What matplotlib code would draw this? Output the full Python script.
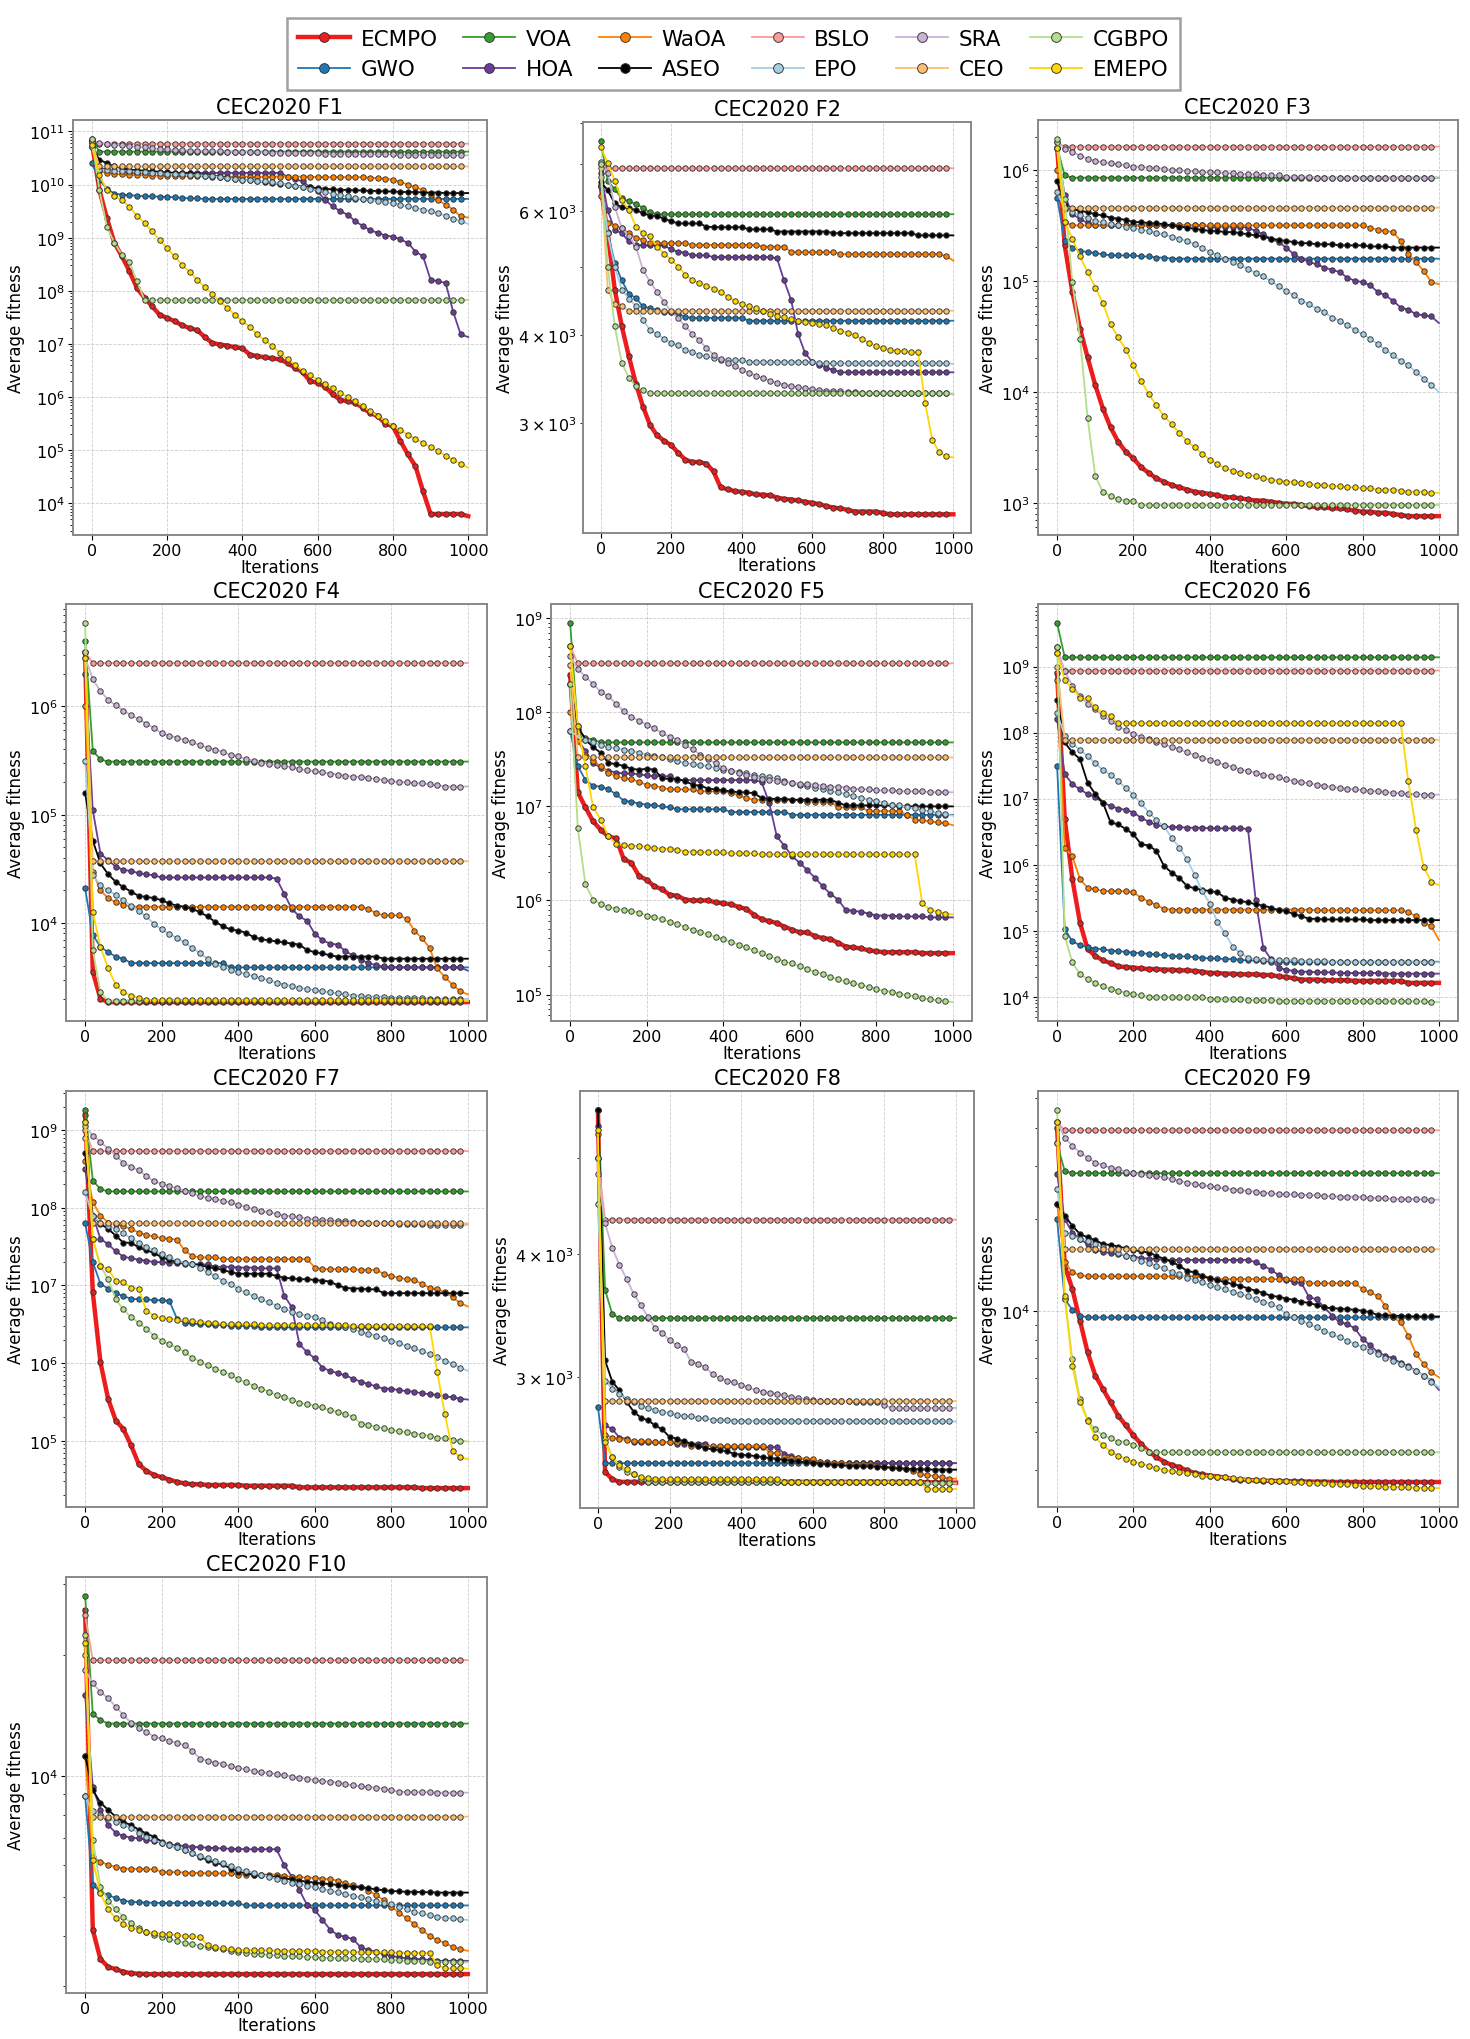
import numpy as np
import matplotlib
matplotlib.use("Agg")
import matplotlib.pyplot as plt

# iterations at which the curves are sampled (markers every 20 iterations)
ITERS = list(range(0, 1001, 20))

ALGOS = ["ECMPO", "GWO", "VOA", "HOA", "WaOA", "ASEO",
         "BSLO", "EPO", "SRA", "CEO", "CGBPO", "EMEPO"]

COLORS = {
    "ECMPO": "#ee1c1c", "GWO": "#1f78b4", "VOA": "#33a02c", "HOA": "#6a3d9a",
    "WaOA": "#ff7f00", "ASEO": "#000000", "BSLO": "#fb9a99", "EPO": "#a6cee3",
    "SRA": "#cab2d6", "CEO": "#fdbf6f", "CGBPO": "#b2df8a", "EMEPO": "#ffd700",
}

# ---- F1: log10 of average fitness ----
F1_LOG = {
    "ECMPO": [10.80, 9.90, 9.37, 8.90, 8.65, 8.37, 8.05, 7.87, 7.71, 7.55,
              7.49, 7.43, 7.35, 7.30, 7.26, 7.13, 7.02, 6.99, 6.97, 6.94,
              6.92, 6.80, 6.77, 6.75, 6.73, 6.71, 6.64, 6.55, 6.47, 6.30,
              6.27, 6.19, 6.05, 5.95, 5.92, 5.89, 5.80, 5.70, 5.64, 5.50,
              5.45, 5.17, 4.92, 4.70, 4.23, 3.80, 3.80, 3.80, 3.80, 3.80, 3.76],
    "GWO": [10.40, 10.09, 9.92, 9.83, 9.81, 9.80, 9.79, 9.78, 9.78, 9.77,
            9.77, 9.76, 9.75, 9.74, 9.74, 9.73, 9.73, 9.73, 9.73, 9.73,
            9.73, 9.73, 9.73, 9.73, 9.73, 9.73, 9.73, 9.73, 9.73, 9.73,
            9.73, 9.73, 9.73, 9.73, 9.73, 9.73, 9.73, 9.73, 9.73, 9.73,
            9.73, 9.73, 9.73, 9.73, 9.73, 9.73, 9.73, 9.73, 9.73, 9.73, 9.73],
    "VOA": [10.85, 10.62, 10.62, 10.62, 10.62, 10.62, 10.62, 10.62, 10.62, 10.62,
            10.62, 10.62, 10.62, 10.62, 10.62, 10.62, 10.62, 10.62, 10.62, 10.62,
            10.62, 10.62, 10.62, 10.62, 10.62, 10.62, 10.62, 10.62, 10.62, 10.62,
            10.62, 10.62, 10.62, 10.62, 10.62, 10.62, 10.62, 10.62, 10.62, 10.62,
            10.62, 10.62, 10.62, 10.62, 10.62, 10.62, 10.62, 10.62, 10.62, 10.62, 10.62],
    "HOA": [10.80, 10.31, 10.29, 10.27, 10.25, 10.22, 10.22, 10.22, 10.22, 10.22,
            10.22, 10.22, 10.22, 10.22, 10.22, 10.22, 10.22, 10.22, 10.22, 10.22,
            10.22, 10.22, 10.22, 10.22, 10.22, 10.22, 10.15, 10.10, 10.06, 9.95,
            9.87, 9.71, 9.59, 9.50, 9.43, 9.31, 9.22, 9.14, 9.09, 9.04,
            9.02, 8.97, 8.90, 8.74, 8.65, 8.21, 8.18, 8.15, 7.61, 7.18, 7.13],
    "WaOA": [10.75, 10.25, 10.22, 10.20, 10.19, 10.18, 10.18, 10.18, 10.17, 10.17,
             10.17, 10.17, 10.16, 10.16, 10.16, 10.16, 10.15, 10.15, 10.15, 10.15,
             10.15, 10.15, 10.15, 10.15, 10.15, 10.15, 10.15, 10.15, 10.15, 10.15,
             10.14, 10.14, 10.14, 10.14, 10.14, 10.14, 10.14, 10.13, 10.12, 10.11,
             10.09, 10.05, 10.00, 9.95, 9.90, 9.80, 9.71, 9.62, 9.53, 9.40, 9.38],
    "ASEO": [10.70, 10.47, 10.40, 10.34, 10.31, 10.28, 10.27, 10.26, 10.25, 10.24,
             10.23, 10.22, 10.22, 10.21, 10.20, 10.18, 10.17, 10.15, 10.13, 10.11,
             10.09, 10.08, 10.07, 10.05, 10.03, 10.01, 10.00, 9.98, 9.96, 9.95,
             9.93, 9.92, 9.91, 9.90, 9.90, 9.89, 9.89, 9.88, 9.88, 9.87,
             9.87, 9.86, 9.86, 9.86, 9.85, 9.85, 9.85, 9.84, 9.84, 9.84, 9.84],
    "BSLO": [10.84, 10.77, 10.77, 10.77, 10.77, 10.77, 10.77, 10.77, 10.77, 10.77,
             10.77, 10.77, 10.77, 10.77, 10.77, 10.77, 10.77, 10.77, 10.77, 10.77,
             10.77, 10.77, 10.77, 10.77, 10.77, 10.77, 10.77, 10.77, 10.77, 10.77,
             10.77, 10.77, 10.77, 10.77, 10.77, 10.77, 10.77, 10.77, 10.77, 10.77,
             10.77, 10.77, 10.77, 10.77, 10.77, 10.77, 10.77, 10.77, 10.77, 10.77, 10.77],
    "EPO": [10.70, 10.28, 10.27, 10.26, 10.26, 10.25, 10.24, 10.23, 10.22, 10.21,
            10.20, 10.19, 10.19, 10.18, 10.18, 10.17, 10.16, 10.14, 10.12, 10.11,
            10.09, 10.08, 10.07, 10.06, 10.04, 10.02, 10.00, 9.98, 9.95, 9.92,
            9.89, 9.86, 9.83, 9.80, 9.78, 9.75, 9.73, 9.71, 9.69, 9.67,
            9.65, 9.62, 9.59, 9.56, 9.53, 9.50, 9.46, 9.41, 9.36, 9.31, 9.26],
    "SRA": [10.82, 10.79, 10.77, 10.75, 10.74, 10.72, 10.71, 10.70, 10.68, 10.67,
            10.66, 10.65, 10.65, 10.64, 10.64, 10.63, 10.63, 10.63, 10.62, 10.62,
            10.62, 10.61, 10.61, 10.61, 10.60, 10.60, 10.60, 10.60, 10.59, 10.59,
            10.59, 10.58, 10.58, 10.58, 10.58, 10.57, 10.57, 10.57, 10.57, 10.57,
            10.57, 10.56, 10.56, 10.56, 10.56, 10.56, 10.55, 10.55, 10.55, 10.55, 10.55],
    "CEO": [10.80, 10.34, 10.34, 10.34, 10.34, 10.34, 10.34, 10.34, 10.34, 10.34,
            10.34, 10.34, 10.34, 10.34, 10.34, 10.34, 10.34, 10.34, 10.34, 10.34,
            10.34, 10.34, 10.34, 10.34, 10.34, 10.34, 10.34, 10.34, 10.34, 10.34,
            10.34, 10.34, 10.34, 10.34, 10.34, 10.34, 10.34, 10.34, 10.34, 10.34,
            10.34, 10.34, 10.34, 10.34, 10.34, 10.34, 10.34, 10.34, 10.34, 10.34, 10.34],
    "CGBPO": [10.86, 9.90, 9.21, 8.90, 8.68, 8.55, 8.18, 7.83, 7.83, 7.83,
              7.83, 7.83, 7.83, 7.83, 7.83, 7.83, 7.83, 7.83, 7.83, 7.83,
              7.83, 7.83, 7.83, 7.83, 7.83, 7.83, 7.83, 7.83, 7.83, 7.83,
              7.83, 7.83, 7.83, 7.83, 7.83, 7.83, 7.83, 7.83, 7.83, 7.83,
              7.83, 7.83, 7.83, 7.83, 7.83, 7.83, 7.83, 7.83, 7.83, 7.83, 7.83],
    "EMEPO": [10.75, 10.18, 9.90, 9.78, 9.71, 9.58, 9.41, 9.28, 9.12, 8.96,
              8.81, 8.65, 8.49, 8.35, 8.21, 8.07, 7.94, 7.80, 7.68, 7.55,
              7.43, 7.32, 7.18, 7.07, 6.96, 6.83, 6.71, 6.61, 6.50, 6.42,
              6.33, 6.25, 6.17, 6.08, 6.00, 5.92, 5.83, 5.73, 5.64, 5.55,
              5.46, 5.39, 5.29, 5.21, 5.14, 5.06, 4.98, 4.90, 4.82, 4.75, 4.67],
}

# ---- F2: average fitness ----
F2_VAL = {
    "ECMPO": [6500, 5580, 4640, 4115, 3730, 3410, 3165, 2980, 2880, 2830,
              2790, 2720, 2660, 2640, 2640, 2625, 2560, 2430, 2415, 2400,
              2395, 2388, 2375, 2372, 2368, 2350, 2340, 2335, 2328, 2318,
              2310, 2300, 2285, 2275, 2268, 2258, 2245, 2245, 2245, 2245,
              2235, 2225, 2225, 2225, 2225, 2225, 2225, 2225, 2225, 2225, 2225],
    "GWO": [6500, 5610, 5060, 4780, 4575, 4515, 4390, 4365, 4340, 4317,
            4305, 4285, 4245, 4230, 4230, 4230, 4230, 4230, 4230, 4230,
            4230, 4190, 4190, 4190, 4190, 4190, 4190, 4190, 4190, 4190,
            4190, 4190, 4190, 4190, 4190, 4190, 4190, 4190, 4190, 4190,
            4190, 4190, 4190, 4190, 4190, 4190, 4190, 4190, 4190, 4190, 4190],
    "VOA": [7550, 6620, 6440, 6250, 6190, 6140, 6060, 5970, 5935, 5935,
            5935, 5935, 5935, 5935, 5935, 5935, 5935, 5935, 5935, 5935,
            5935, 5935, 5935, 5935, 5935, 5935, 5935, 5935, 5935, 5935,
            5935, 5935, 5935, 5935, 5935, 5935, 5935, 5935, 5935, 5935,
            5935, 5935, 5935, 5935, 5935, 5935, 5935, 5935, 5935, 5935, 5935],
    "HOA": [6800, 6015, 5635, 5580, 5430, 5370, 5360, 5360, 5360, 5360,
            5290, 5250, 5235, 5190, 5190, 5190, 5160, 5160, 5160, 5160,
            5160, 5160, 5160, 5160, 5160, 5140, 4780, 4485, 4010, 3765,
            3665, 3630, 3590, 3570, 3540, 3540, 3540, 3540, 3540, 3540,
            3540, 3540, 3540, 3540, 3540, 3540, 3540, 3540, 3540, 3540, 3540],
    "WaOA": [6300, 5760, 5715, 5670, 5580, 5500, 5460, 5400, 5400, 5400,
             5400, 5400, 5400, 5370, 5370, 5370, 5370, 5370, 5370, 5370,
             5370, 5370, 5370, 5340, 5340, 5340, 5340, 5245, 5245, 5245,
             5245, 5245, 5245, 5245, 5210, 5210, 5210, 5210, 5210, 5210,
             5210, 5210, 5210, 5210, 5210, 5210, 5210, 5210, 5210, 5175, 5100],
    "ASEO": [6600, 6420, 6150, 6070, 6050, 6020, 5955, 5910, 5900, 5850,
             5800, 5760, 5760, 5760, 5760, 5700, 5690, 5690, 5690, 5690,
             5690, 5650, 5650, 5650, 5650, 5610, 5610, 5610, 5610, 5610,
             5610, 5610, 5610, 5580, 5580, 5580, 5580, 5580, 5580, 5580,
             5580, 5580, 5580, 5580, 5580, 5540, 5540, 5540, 5540, 5540, 5540],
    "BSLO": [7000, 6900, 6900, 6900, 6900, 6900, 6900, 6900, 6900, 6900,
             6900, 6900, 6900, 6900, 6900, 6900, 6900, 6900, 6900, 6900,
             6900, 6900, 6900, 6900, 6900, 6900, 6900, 6900, 6900, 6900,
             6900, 6900, 6900, 6900, 6900, 6900, 6900, 6900, 6900, 6900,
             6900, 6900, 6900, 6900, 6900, 6900, 6900, 6900, 6900, 6900, 6900],
    "EPO": [6700, 5580, 5000, 4640, 4500, 4400, 4200, 4065, 4010, 3950,
            3895, 3865, 3810, 3780, 3750, 3730, 3710, 3690, 3680, 3680,
            3680, 3665, 3665, 3665, 3665, 3665, 3665, 3665, 3665, 3665,
            3665, 3645, 3645, 3645, 3645, 3645, 3645, 3645, 3645, 3645,
            3645, 3645, 3645, 3645, 3645, 3645, 3645, 3645, 3645, 3645, 3640],
    "SRA": [7050, 6800, 6085, 5670, 5530, 5340, 4950, 4760, 4605, 4455,
            4317, 4225, 4115, 4010, 3930, 3830, 3750, 3695, 3650, 3610,
            3570, 3535, 3500, 3470, 3445, 3420, 3400, 3385, 3370, 3360,
            3350, 3340, 3335, 3330, 3325, 3320, 3318, 3310, 3310, 3310,
            3310, 3310, 3310, 3310, 3310, 3310, 3310, 3310, 3310, 3310, 3290],
    "CEO": [6900, 4640, 4420, 4390, 4330, 4330, 4330, 4330, 4330, 4330,
            4330, 4330, 4330, 4330, 4330, 4330, 4330, 4330, 4330, 4330,
            4330, 4330, 4330, 4330, 4330, 4330, 4330, 4330, 4330, 4330,
            4330, 4330, 4330, 4330, 4330, 4330, 4330, 4330, 4330, 4330,
            4330, 4330, 4330, 4330, 4330, 4330, 4330, 4330, 4330, 4330, 4330],
    "CGBPO": [7000, 5000, 4115, 3650, 3475, 3380, 3340, 3305, 3305, 3305,
              3305, 3305, 3305, 3305, 3305, 3305, 3305, 3305, 3305, 3305,
              3305, 3305, 3305, 3305, 3305, 3305, 3305, 3305, 3305, 3305,
              3305, 3305, 3305, 3305, 3305, 3305, 3305, 3305, 3305, 3305,
              3305, 3305, 3305, 3305, 3305, 3305, 3305, 3305, 3305, 3305, 3305],
    "EMEPO": [7400, 7020, 6620, 6220, 6020, 5700, 5580, 5520, 5340, 5220,
              5115, 5000, 4870, 4790, 4735, 4700, 4655, 4605, 4530, 4475,
              4425, 4390, 4365, 4330, 4285, 4255, 4235, 4210, 4190, 4175,
              4155, 4145, 4135, 4090, 4055, 4030, 4000, 3945, 3900, 3860,
              3830, 3810, 3800, 3790, 3780, 3780, 3200, 2840, 2725, 2690, 2678],
}

# ---- F3: log10 of average fitness ----
F3_LOG = {
    "ECMPO": [6.20, 5.32, 4.90, 4.57, 4.31, 4.06, 3.85, 3.68, 3.55, 3.46,
              3.40, 3.32, 3.27, 3.22, 3.19, 3.16, 3.14, 3.12, 3.10, 3.09,
              3.08, 3.07, 3.05, 3.05, 3.04, 3.03, 3.02, 3.02, 3.01, 3.00,
              2.99, 2.99, 2.98, 2.97, 2.96, 2.96, 2.95, 2.95, 2.94, 2.93,
              2.92, 2.92, 2.91, 2.91, 2.90, 2.89, 2.88, 2.88, 2.88, 2.88, 2.88],
    "GWO": [5.75, 5.36, 5.30, 5.27, 5.26, 5.25, 5.24, 5.23, 5.23, 5.23,
            5.23, 5.22, 5.22, 5.21, 5.21, 5.20, 5.20, 5.20, 5.20, 5.20,
            5.20, 5.20, 5.20, 5.20, 5.20, 5.20, 5.20, 5.20, 5.20, 5.20,
            5.20, 5.20, 5.20, 5.20, 5.20, 5.20, 5.20, 5.20, 5.20, 5.20,
            5.20, 5.20, 5.20, 5.20, 5.20, 5.20, 5.20, 5.20, 5.20, 5.20, 5.20],
    "VOA": [6.20, 5.95, 5.93, 5.93, 5.93, 5.93, 5.93, 5.93, 5.93, 5.93,
            5.93, 5.93, 5.93, 5.93, 5.93, 5.93, 5.93, 5.93, 5.93, 5.93,
            5.93, 5.93, 5.93, 5.93, 5.93, 5.93, 5.93, 5.93, 5.93, 5.93,
            5.93, 5.93, 5.93, 5.93, 5.93, 5.93, 5.93, 5.93, 5.93, 5.93,
            5.93, 5.93, 5.93, 5.93, 5.93, 5.93, 5.93, 5.93, 5.93, 5.93, 5.93],
    "HOA": [6.20, 5.77, 5.60, 5.56, 5.52, 5.50, 5.50, 5.50, 5.50, 5.50,
            5.50, 5.50, 5.50, 5.50, 5.50, 5.50, 5.50, 5.50, 5.50, 5.50,
            5.49, 5.49, 5.49, 5.49, 5.49, 5.48, 5.45, 5.42, 5.38, 5.35,
            5.30, 5.24, 5.20, 5.17, 5.15, 5.12, 5.10, 5.08, 5.03, 5.00,
            4.99, 4.96, 4.90, 4.87, 4.82, 4.76, 4.74, 4.70, 4.69, 4.68, 4.62],
    "WaOA": [6.00, 5.53, 5.50, 5.50, 5.50, 5.50, 5.50, 5.50, 5.50, 5.50,
             5.50, 5.50, 5.50, 5.50, 5.50, 5.50, 5.50, 5.50, 5.50, 5.50,
             5.50, 5.50, 5.50, 5.50, 5.50, 5.50, 5.50, 5.50, 5.50, 5.50,
             5.50, 5.50, 5.50, 5.50, 5.50, 5.50, 5.50, 5.50, 5.50, 5.50,
             5.50, 5.48, 5.46, 5.45, 5.44, 5.36, 5.24, 5.17, 5.09, 4.99, 4.97],
    "ASEO": [5.90, 5.68, 5.65, 5.63, 5.62, 5.60, 5.59, 5.57, 5.56, 5.55,
             5.53, 5.53, 5.52, 5.52, 5.51, 5.50, 5.49, 5.48, 5.47, 5.46,
             5.45, 5.45, 5.44, 5.44, 5.43, 5.42, 5.41, 5.40, 5.38, 5.37,
             5.36, 5.35, 5.34, 5.34, 5.33, 5.33, 5.33, 5.32, 5.32, 5.32,
             5.32, 5.31, 5.31, 5.31, 5.30, 5.30, 5.30, 5.30, 5.30, 5.30, 5.30],
    "BSLO": [6.25, 6.21, 6.21, 6.21, 6.21, 6.21, 6.21, 6.21, 6.21, 6.21,
             6.21, 6.21, 6.21, 6.21, 6.21, 6.21, 6.21, 6.21, 6.21, 6.21,
             6.21, 6.21, 6.21, 6.21, 6.21, 6.21, 6.21, 6.21, 6.21, 6.21,
             6.21, 6.21, 6.21, 6.21, 6.21, 6.21, 6.21, 6.21, 6.21, 6.21,
             6.21, 6.21, 6.21, 6.21, 6.21, 6.21, 6.21, 6.21, 6.21, 6.21, 6.21],
    "EPO": [5.80, 5.65, 5.62, 5.59, 5.57, 5.54, 5.53, 5.51, 5.50, 5.49,
            5.48, 5.46, 5.45, 5.43, 5.42, 5.40, 5.38, 5.36, 5.33, 5.30,
            5.26, 5.23, 5.20, 5.17, 5.14, 5.11, 5.07, 5.04, 5.00, 4.95,
            4.91, 4.87, 4.82, 4.79, 4.75, 4.72, 4.67, 4.64, 4.60, 4.56,
            4.52, 4.48, 4.43, 4.38, 4.33, 4.28, 4.24, 4.18, 4.12, 4.06, 4.00],
    "SRA": [6.25, 6.19, 6.16, 6.13, 6.10, 6.08, 6.07, 6.06, 6.05, 6.04,
            6.03, 6.03, 6.02, 6.02, 6.01, 6.00, 6.00, 5.99, 5.99, 5.98,
            5.98, 5.98, 5.97, 5.97, 5.96, 5.96, 5.96, 5.95, 5.95, 5.95,
            5.94, 5.94, 5.94, 5.94, 5.93, 5.93, 5.93, 5.93, 5.93, 5.93,
            5.93, 5.93, 5.93, 5.93, 5.93, 5.93, 5.93, 5.93, 5.93, 5.93, 5.93],
    "CEO": [6.20, 5.66, 5.66, 5.66, 5.66, 5.66, 5.66, 5.66, 5.66, 5.66,
            5.66, 5.66, 5.66, 5.66, 5.66, 5.66, 5.66, 5.66, 5.66, 5.66,
            5.66, 5.66, 5.66, 5.66, 5.66, 5.66, 5.66, 5.66, 5.66, 5.66,
            5.66, 5.66, 5.66, 5.66, 5.66, 5.66, 5.66, 5.66, 5.66, 5.66,
            5.66, 5.66, 5.66, 5.66, 5.66, 5.66, 5.66, 5.66, 5.66, 5.66, 5.66],
    "CGBPO": [6.28, 5.74, 4.99, 4.48, 3.76, 3.24, 3.10, 3.06, 3.03, 3.02,
              3.02, 2.98, 2.98, 2.98, 2.98, 2.98, 2.98, 2.98, 2.98, 2.98,
              2.98, 2.98, 2.98, 2.98, 2.98, 2.98, 2.98, 2.98, 2.98, 2.98,
              2.98, 2.98, 2.98, 2.98, 2.98, 2.98, 2.98, 2.98, 2.98, 2.98,
              2.98, 2.98, 2.98, 2.98, 2.98, 2.98, 2.98, 2.98, 2.98, 2.98, 2.98],
    "EMEPO": [6.20, 5.53, 5.38, 5.22, 5.08, 4.94, 4.80, 4.61, 4.49, 4.38,
              4.24, 4.10, 3.98, 3.88, 3.78, 3.71, 3.63, 3.56, 3.50, 3.44,
              3.39, 3.35, 3.31, 3.29, 3.27, 3.25, 3.24, 3.22, 3.21, 3.20,
              3.19, 3.19, 3.18, 3.17, 3.16, 3.16, 3.15, 3.15, 3.14, 3.14,
              3.13, 3.13, 3.12, 3.12, 3.12, 3.11, 3.10, 3.10, 3.10, 3.09, 3.09],
}

# ---- F4: log10 of average fitness ----
F4_LOG = {
    "ECMPO": [6.50, 3.55, 3.30, 3.27, 3.27, 3.27, 3.27, 3.27, 3.27, 3.27,
              3.27, 3.27, 3.27, 3.27, 3.27, 3.27, 3.27, 3.27, 3.27, 3.27,
              3.27, 3.27, 3.27, 3.27, 3.27, 3.27, 3.27, 3.27, 3.27, 3.27,
              3.27, 3.27, 3.27, 3.27, 3.27, 3.27, 3.27, 3.27, 3.27, 3.27,
              3.27, 3.27, 3.27, 3.27, 3.27, 3.27, 3.27, 3.27, 3.27, 3.27, 3.27],
    "GWO": [4.32, 3.89, 3.78, 3.73, 3.69, 3.67, 3.63, 3.63, 3.63, 3.63,
            3.63, 3.63, 3.63, 3.63, 3.63, 3.63, 3.63, 3.63, 3.63, 3.59,
            3.59, 3.59, 3.59, 3.59, 3.59, 3.59, 3.59, 3.59, 3.59, 3.59,
            3.59, 3.59, 3.59, 3.59, 3.59, 3.59, 3.59, 3.59, 3.59, 3.59,
            3.59, 3.59, 3.59, 3.59, 3.59, 3.59, 3.59, 3.59, 3.59, 3.59, 3.59],
    "VOA": [6.60, 5.59, 5.51, 5.49, 5.49, 5.49, 5.49, 5.49, 5.49, 5.49,
            5.49, 5.49, 5.49, 5.49, 5.49, 5.49, 5.49, 5.49, 5.49, 5.49,
            5.49, 5.49, 5.49, 5.49, 5.49, 5.49, 5.49, 5.49, 5.49, 5.49,
            5.49, 5.49, 5.49, 5.49, 5.49, 5.49, 5.49, 5.49, 5.49, 5.49,
            5.49, 5.49, 5.49, 5.49, 5.49, 5.49, 5.49, 5.49, 5.49, 5.49, 5.49],
    "HOA": [6.30, 5.04, 4.64, 4.58, 4.52, 4.49, 4.48, 4.46, 4.45, 4.44,
            4.42, 4.42, 4.42, 4.42, 4.42, 4.42, 4.42, 4.42, 4.42, 4.42,
            4.42, 4.42, 4.42, 4.42, 4.42, 4.41, 4.27, 4.13, 4.06, 4.02,
            3.90, 3.84, 3.81, 3.80, 3.74, 3.70, 3.66, 3.63, 3.61, 3.60,
            3.59, 3.59, 3.59, 3.59, 3.59, 3.59, 3.59, 3.59, 3.59, 3.59, 3.56],
    "WaOA": [6.00, 4.47, 4.30, 4.23, 4.19, 4.17, 4.15, 4.15, 4.15, 4.15,
             4.15, 4.15, 4.15, 4.15, 4.15, 4.15, 4.15, 4.15, 4.15, 4.15,
             4.15, 4.15, 4.15, 4.15, 4.15, 4.15, 4.15, 4.15, 4.15, 4.15,
             4.15, 4.15, 4.15, 4.15, 4.15, 4.15, 4.15, 4.13, 4.09, 4.07,
             4.07, 4.07, 4.04, 3.93, 3.86, 3.77, 3.58, 3.50, 3.43, 3.37, 3.34],
    "ASEO": [5.20, 4.76, 4.55, 4.45, 4.38, 4.33, 4.29, 4.25, 4.24, 4.23,
             4.21, 4.18, 4.16, 4.15, 4.13, 4.10, 4.06, 4.01, 3.97, 3.94,
             3.93, 3.91, 3.87, 3.85, 3.84, 3.83, 3.82, 3.81, 3.80, 3.75,
             3.73, 3.72, 3.70, 3.69, 3.69, 3.69, 3.69, 3.69, 3.69, 3.67,
             3.67, 3.67, 3.67, 3.67, 3.67, 3.67, 3.67, 3.67, 3.67, 3.67, 3.67],
    "BSLO": [6.50, 6.40, 6.40, 6.40, 6.40, 6.40, 6.40, 6.40, 6.40, 6.40,
             6.40, 6.40, 6.40, 6.40, 6.40, 6.40, 6.40, 6.40, 6.40, 6.40,
             6.40, 6.40, 6.40, 6.40, 6.40, 6.40, 6.40, 6.40, 6.40, 6.40,
             6.40, 6.40, 6.40, 6.40, 6.40, 6.40, 6.40, 6.40, 6.40, 6.40,
             6.40, 6.40, 6.40, 6.40, 6.40, 6.40, 6.40, 6.40, 6.40, 6.40, 6.40],
    "EPO": [5.50, 4.44, 4.35, 4.30, 4.26, 4.21, 4.16, 4.11, 4.06, 3.99,
            3.94, 3.90, 3.86, 3.82, 3.77, 3.72, 3.67, 3.62, 3.59, 3.57,
            3.55, 3.53, 3.51, 3.49, 3.47, 3.45, 3.43, 3.42, 3.40, 3.39,
            3.38, 3.37, 3.36, 3.35, 3.34, 3.33, 3.33, 3.32, 3.32, 3.32,
            3.31, 3.31, 3.31, 3.31, 3.31, 3.30, 3.30, 3.30, 3.30, 3.30, 3.30],
    "SRA": [6.45, 6.25, 6.14, 6.06, 6.01, 5.96, 5.92, 5.88, 5.84, 5.80,
            5.75, 5.73, 5.71, 5.69, 5.67, 5.64, 5.62, 5.60, 5.58, 5.55,
            5.54, 5.51, 5.50, 5.48, 5.47, 5.46, 5.45, 5.44, 5.42, 5.41,
            5.40, 5.39, 5.38, 5.37, 5.36, 5.35, 5.35, 5.34, 5.33, 5.32,
            5.31, 5.30, 5.30, 5.29, 5.29, 5.28, 5.27, 5.26, 5.26, 5.26, 5.26],
    "CEO": [6.50, 4.57, 4.57, 4.57, 4.57, 4.57, 4.57, 4.57, 4.57, 4.57,
            4.57, 4.57, 4.57, 4.57, 4.57, 4.57, 4.57, 4.57, 4.57, 4.57,
            4.57, 4.57, 4.57, 4.57, 4.57, 4.57, 4.57, 4.57, 4.57, 4.57,
            4.57, 4.57, 4.57, 4.57, 4.57, 4.57, 4.57, 4.57, 4.57, 4.57,
            4.57, 4.57, 4.57, 4.57, 4.57, 4.57, 4.57, 4.57, 4.57, 4.57, 4.57],
    "CGBPO": [6.77, 3.75, 3.36, 3.28, 3.28, 3.28, 3.28, 3.28, 3.28, 3.28,
              3.28, 3.28, 3.28, 3.28, 3.28, 3.28, 3.28, 3.28, 3.28, 3.28,
              3.28, 3.28, 3.28, 3.28, 3.28, 3.28, 3.28, 3.28, 3.28, 3.28,
              3.28, 3.28, 3.28, 3.28, 3.28, 3.28, 3.28, 3.28, 3.28, 3.28,
              3.28, 3.28, 3.28, 3.28, 3.28, 3.28, 3.28, 3.28, 3.28, 3.28, 3.28],
    "EMEPO": [6.45, 4.10, 3.78, 3.58, 3.43, 3.36, 3.33, 3.31, 3.29, 3.29,
              3.29, 3.29, 3.29, 3.29, 3.29, 3.29, 3.29, 3.29, 3.29, 3.29,
              3.29, 3.29, 3.29, 3.29, 3.29, 3.29, 3.29, 3.29, 3.29, 3.29,
              3.29, 3.29, 3.29, 3.29, 3.29, 3.29, 3.29, 3.29, 3.29, 3.29,
              3.29, 3.29, 3.29, 3.29, 3.29, 3.29, 3.29, 3.29, 3.29, 3.29, 3.29],
}

# ---- F5: log10 of average fitness ----
F5_LOG = {
    "ECMPO": [8.40, 7.15, 6.99, 6.84, 6.75, 6.68, 6.66, 6.44, 6.40, 6.26,
              6.22, 6.15, 6.12, 6.06, 6.05, 6.01, 6.00, 6.00, 6.00, 5.98,
              5.97, 5.96, 5.93, 5.91, 5.85, 5.80, 5.78, 5.76, 5.72, 5.69,
              5.66, 5.66, 5.62, 5.60, 5.59, 5.55, 5.51, 5.50, 5.49, 5.47,
              5.46, 5.45, 5.45, 5.45, 5.45, 5.45, 5.44, 5.44, 5.44, 5.44, 5.44],
    "GWO": [7.80, 7.43, 7.28, 7.22, 7.21, 7.18, 7.13, 7.06, 7.05, 7.03,
            7.02, 7.01, 7.00, 6.99, 6.97, 6.97, 6.97, 6.97, 6.97, 6.97,
            6.97, 6.94, 6.94, 6.94, 6.94, 6.94, 6.94, 6.94, 6.94, 6.91,
            6.91, 6.91, 6.91, 6.91, 6.91, 6.91, 6.91, 6.91, 6.91, 6.91,
            6.91, 6.91, 6.91, 6.91, 6.91, 6.91, 6.91, 6.91, 6.91, 6.91, 6.91],
    "VOA": [8.95, 7.82, 7.73, 7.71, 7.68, 7.68, 7.68, 7.68, 7.68, 7.68,
            7.68, 7.68, 7.68, 7.68, 7.68, 7.68, 7.68, 7.68, 7.68, 7.68,
            7.68, 7.68, 7.68, 7.68, 7.68, 7.68, 7.68, 7.68, 7.68, 7.68,
            7.68, 7.68, 7.68, 7.68, 7.68, 7.68, 7.68, 7.68, 7.68, 7.68,
            7.68, 7.68, 7.68, 7.68, 7.68, 7.68, 7.68, 7.68, 7.68, 7.68, 7.68],
    "HOA": [8.30, 7.71, 7.59, 7.46, 7.41, 7.38, 7.36, 7.35, 7.35, 7.34,
            7.33, 7.32, 7.32, 7.32, 7.28, 7.28, 7.28, 7.28, 7.28, 7.28,
            7.28, 7.28, 7.28, 7.28, 7.28, 7.26, 7.04, 6.68, 6.58, 6.47,
            6.40, 6.32, 6.24, 6.15, 6.07, 6.01, 5.90, 5.89, 5.88, 5.86,
            5.84, 5.84, 5.84, 5.83, 5.83, 5.83, 5.83, 5.82, 5.82, 5.82, 5.82],
    "WaOA": [8.00, 7.70, 7.55, 7.48, 7.43, 7.36, 7.32, 7.30, 7.29, 7.26,
             7.23, 7.22, 7.20, 7.18, 7.18, 7.18, 7.18, 7.16, 7.16, 7.16,
             7.16, 7.14, 7.12, 7.09, 7.07, 7.07, 7.07, 7.07, 7.07, 7.07,
             7.07, 7.05, 7.05, 7.05, 7.05, 6.99, 6.99, 6.99, 6.99, 6.95,
             6.95, 6.95, 6.95, 6.95, 6.91, 6.86, 6.85, 6.84, 6.83, 6.82, 6.80],
    "ASEO": [8.30, 7.85, 7.71, 7.63, 7.57, 7.46, 7.45, 7.43, 7.40, 7.39,
             7.40, 7.39, 7.30, 7.29, 7.29, 7.27, 7.23, 7.22, 7.19, 7.18,
             7.17, 7.16, 7.15, 7.15, 7.14, 7.09, 7.08, 7.08, 7.08, 7.07,
             7.07, 7.07, 7.07, 7.07, 7.07, 7.04, 7.01, 7.01, 7.01, 7.01,
             7.01, 7.01, 7.01, 7.00, 7.00, 7.00, 7.00, 7.00, 7.00, 7.00, 7.00],
    "BSLO": [8.70, 8.52, 8.52, 8.52, 8.52, 8.52, 8.52, 8.52, 8.52, 8.52,
             8.52, 8.52, 8.52, 8.52, 8.52, 8.52, 8.52, 8.52, 8.52, 8.52,
             8.52, 8.52, 8.52, 8.52, 8.52, 8.52, 8.52, 8.52, 8.52, 8.52,
             8.52, 8.52, 8.52, 8.52, 8.52, 8.52, 8.52, 8.52, 8.52, 8.52,
             8.52, 8.52, 8.52, 8.52, 8.52, 8.52, 8.52, 8.52, 8.52, 8.52, 8.52],
    "EPO": [7.80, 7.75, 7.71, 7.68, 7.65, 7.63, 7.62, 7.60, 7.59, 7.57,
            7.55, 7.54, 7.52, 7.50, 7.48, 7.46, 7.45, 7.44, 7.43, 7.41,
            7.39, 7.38, 7.37, 7.35, 7.33, 7.32, 7.31, 7.30, 7.27, 7.25,
            7.23, 7.22, 7.20, 7.18, 7.16, 7.15, 7.13, 7.11, 7.09, 7.07,
            7.06, 7.04, 7.02, 7.01, 6.99, 6.98, 6.96, 6.95, 6.93, 6.92, 6.90],
    "SRA": [8.60, 8.46, 8.38, 8.30, 8.22, 8.17, 8.09, 8.01, 7.95, 7.91,
            7.87, 7.83, 7.78, 7.74, 7.71, 7.65, 7.61, 7.55, 7.50, 7.46,
            7.41, 7.38, 7.36, 7.33, 7.31, 7.29, 7.28, 7.27, 7.26, 7.25,
            7.24, 7.24, 7.23, 7.22, 7.21, 7.21, 7.20, 7.19, 7.18, 7.18,
            7.17, 7.17, 7.17, 7.16, 7.16, 7.16, 7.16, 7.15, 7.15, 7.15, 7.15],
    "CEO": [8.50, 7.52, 7.52, 7.52, 7.52, 7.52, 7.52, 7.52, 7.52, 7.52,
            7.52, 7.52, 7.52, 7.52, 7.52, 7.52, 7.52, 7.52, 7.52, 7.52,
            7.52, 7.52, 7.52, 7.52, 7.52, 7.52, 7.52, 7.52, 7.52, 7.52,
            7.52, 7.52, 7.52, 7.52, 7.52, 7.52, 7.52, 7.52, 7.52, 7.52,
            7.52, 7.52, 7.52, 7.52, 7.52, 7.52, 7.52, 7.52, 7.52, 7.52, 7.52],
    "CGBPO": [8.30, 6.77, 6.17, 6.01, 5.96, 5.93, 5.91, 5.90, 5.89, 5.87,
              5.84, 5.82, 5.80, 5.77, 5.75, 5.72, 5.69, 5.66, 5.64, 5.61,
              5.59, 5.56, 5.53, 5.50, 5.47, 5.44, 5.41, 5.38, 5.35, 5.33,
              5.30, 5.27, 5.24, 5.22, 5.19, 5.16, 5.14, 5.12, 5.10, 5.08,
              5.06, 5.04, 5.03, 5.01, 4.99, 4.98, 4.96, 4.95, 4.94, 4.93, 4.92],
    "EMEPO": [8.70, 7.85, 7.43, 6.99, 6.86, 6.68, 6.60, 6.59, 6.58, 6.58,
              6.57, 6.56, 6.55, 6.55, 6.54, 6.52, 6.52, 6.52, 6.51, 6.51,
              6.51, 6.50, 6.50, 6.50, 6.50, 6.49, 6.49, 6.49, 6.49, 6.49,
              6.49, 6.49, 6.49, 6.49, 6.49, 6.49, 6.49, 6.49, 6.49, 6.49,
              6.49, 6.49, 6.49, 6.49, 6.49, 6.49, 5.97, 5.90, 5.88, 5.86, 5.85],
}

# ---- F6: log10 of average fitness ----
F6_LOG = {
    "ECMPO": [8.90, 6.69, 5.78, 5.12, 4.72, 4.62, 4.55, 4.51, 4.46, 4.45,
              4.44, 4.43, 4.42, 4.42, 4.41, 4.41, 4.40, 4.40, 4.39, 4.38,
              4.36, 4.36, 4.35, 4.35, 4.34, 4.34, 4.34, 4.33, 4.33, 4.31,
              4.30, 4.28, 4.26, 4.26, 4.26, 4.25, 4.25, 4.25, 4.25, 4.24,
              4.24, 4.24, 4.24, 4.24, 4.24, 4.24, 4.21, 4.21, 4.21, 4.21, 4.21],
    "GWO": [7.50, 5.02, 4.84, 4.78, 4.75, 4.73, 4.72, 4.70, 4.69, 4.68,
            4.67, 4.66, 4.65, 4.64, 4.63, 4.62, 4.61, 4.61, 4.60, 4.59,
            4.58, 4.58, 4.57, 4.57, 4.56, 4.55, 4.55, 4.54, 4.53, 4.53,
            4.53, 4.53, 4.53, 4.53, 4.53, 4.53, 4.53, 4.53, 4.53, 4.53,
            4.53, 4.53, 4.53, 4.53, 4.53, 4.53, 4.53, 4.53, 4.53, 4.53, 4.53],
    "VOA": [9.66, 9.14, 9.14, 9.14, 9.14, 9.14, 9.14, 9.14, 9.14, 9.14,
            9.14, 9.14, 9.14, 9.14, 9.14, 9.14, 9.14, 9.14, 9.14, 9.14,
            9.14, 9.14, 9.14, 9.14, 9.14, 9.14, 9.14, 9.14, 9.14, 9.14,
            9.14, 9.14, 9.14, 9.14, 9.14, 9.14, 9.14, 9.14, 9.14, 9.14,
            9.14, 9.14, 9.14, 9.14, 9.14, 9.14, 9.14, 9.14, 9.14, 9.14, 9.14],
    "HOA": [8.20, 7.37, 7.22, 7.14, 7.07, 7.02, 6.94, 6.89, 6.85, 6.83,
            6.79, 6.71, 6.65, 6.60, 6.58, 6.57, 6.57, 6.56, 6.56, 6.56,
            6.55, 6.55, 6.55, 6.55, 6.55, 6.54, 5.47, 4.74, 4.57, 4.44,
            4.41, 4.39, 4.38, 4.38, 4.37, 4.37, 4.37, 4.36, 4.36, 4.36,
            4.36, 4.36, 4.36, 4.35, 4.35, 4.35, 4.35, 4.35, 4.35, 4.35, 4.35],
    "WaOA": [8.80, 6.26, 6.13, 5.78, 5.65, 5.63, 5.60, 5.60, 5.60, 5.60,
             5.58, 5.50, 5.44, 5.39, 5.33, 5.32, 5.32, 5.32, 5.32, 5.32,
             5.32, 5.32, 5.32, 5.32, 5.32, 5.32, 5.32, 5.32, 5.32, 5.32,
             5.32, 5.32, 5.32, 5.32, 5.31, 5.31, 5.31, 5.31, 5.31, 5.31,
             5.31, 5.31, 5.31, 5.31, 5.31, 5.31, 5.28, 5.22, 5.12, 5.07, 4.86],
    "ASEO": [8.50, 7.85, 7.70, 7.60, 7.24, 7.07, 6.94, 6.64, 6.61, 6.54,
             6.46, 6.31, 6.29, 6.21, 5.98, 5.88, 5.80, 5.68, 5.64, 5.62,
             5.60, 5.58, 5.50, 5.47, 5.45, 5.43, 5.40, 5.38, 5.35, 5.31,
             5.30, 5.25, 5.22, 5.18, 5.18, 5.17, 5.17, 5.17, 5.17, 5.17,
             5.17, 5.16, 5.16, 5.16, 5.16, 5.16, 5.16, 5.16, 5.16, 5.16, 5.16],
    "BSLO": [9.20, 8.94, 8.94, 8.94, 8.94, 8.94, 8.94, 8.94, 8.94, 8.94,
             8.94, 8.94, 8.94, 8.94, 8.94, 8.94, 8.94, 8.94, 8.94, 8.94,
             8.94, 8.94, 8.94, 8.94, 8.94, 8.94, 8.94, 8.94, 8.94, 8.94,
             8.94, 8.94, 8.94, 8.94, 8.94, 8.94, 8.94, 8.94, 8.94, 8.94,
             8.94, 8.94, 8.94, 8.94, 8.94, 8.94, 8.94, 8.94, 8.94, 8.94, 8.94],
    "EPO": [8.30, 7.95, 7.83, 7.74, 7.64, 7.54, 7.43, 7.36, 7.27, 7.16,
            7.06, 6.93, 6.79, 6.68, 6.58, 6.41, 6.26, 6.08, 5.85, 5.60,
            5.41, 5.13, 4.96, 4.76, 4.66, 4.59, 4.57, 4.56, 4.56, 4.55,
            4.55, 4.55, 4.54, 4.54, 4.54, 4.54, 4.53, 4.53, 4.53, 4.53,
            4.53, 4.53, 4.53, 4.53, 4.53, 4.53, 4.53, 4.53, 4.52, 4.52, 4.52],
    "SRA": [9.30, 8.93, 8.71, 8.56, 8.43, 8.35, 8.25, 8.18, 8.09, 8.04,
            7.98, 7.94, 7.90, 7.86, 7.82, 7.78, 7.75, 7.70, 7.66, 7.62,
            7.59, 7.55, 7.51, 7.48, 7.44, 7.42, 7.39, 7.36, 7.34, 7.32,
            7.29, 7.27, 7.25, 7.23, 7.21, 7.19, 7.18, 7.16, 7.15, 7.14,
            7.13, 7.12, 7.11, 7.10, 7.09, 7.08, 7.07, 7.07, 7.06, 7.06, 7.06],
    "CEO": [9.00, 7.89, 7.89, 7.89, 7.89, 7.89, 7.89, 7.89, 7.89, 7.89,
            7.89, 7.89, 7.89, 7.89, 7.89, 7.89, 7.89, 7.89, 7.89, 7.89,
            7.89, 7.89, 7.89, 7.89, 7.89, 7.89, 7.89, 7.89, 7.89, 7.89,
            7.89, 7.89, 7.89, 7.89, 7.89, 7.89, 7.89, 7.89, 7.89, 7.89,
            7.89, 7.89, 7.89, 7.89, 7.89, 7.89, 7.89, 7.89, 7.89, 7.89, 7.89],
    "CGBPO": [9.30, 4.92, 4.52, 4.34, 4.27, 4.21, 4.16, 4.12, 4.09, 4.06,
              4.04, 4.02, 4.00, 4.00, 4.00, 3.99, 3.99, 3.99, 3.99, 3.99,
              3.97, 3.97, 3.96, 3.96, 3.96, 3.95, 3.95, 3.95, 3.95, 3.94,
              3.94, 3.94, 3.94, 3.94, 3.94, 3.94, 3.94, 3.94, 3.94, 3.94,
              3.93, 3.93, 3.93, 3.93, 3.93, 3.93, 3.93, 3.93, 3.93, 3.92, 3.92],
    "EMEPO": [9.20, 8.80, 8.66, 8.53, 8.52, 8.38, 8.30, 8.25, 8.14, 8.14,
              8.14, 8.14, 8.14, 8.14, 8.14, 8.14, 8.14, 8.14, 8.14, 8.14,
              8.14, 8.14, 8.14, 8.14, 8.14, 8.14, 8.14, 8.14, 8.14, 8.14,
              8.14, 8.14, 8.14, 8.14, 8.14, 8.14, 8.14, 8.14, 8.14, 8.14,
              8.14, 8.14, 8.14, 8.14, 8.14, 8.14, 7.26, 6.53, 5.97, 5.74, 5.69],
}

# ---- F7: log10 of average fitness ----
F7_LOG = {
    "ECMPO": [9.20, 6.91, 6.01, 5.54, 5.26, 5.15, 4.94, 4.70, 4.61, 4.56,
              4.53, 4.50, 4.47, 4.45, 4.44, 4.44, 4.43, 4.43, 4.43, 4.43,
              4.43, 4.42, 4.42, 4.42, 4.42, 4.42, 4.42, 4.42, 4.40, 4.40,
              4.40, 4.40, 4.40, 4.40, 4.40, 4.40, 4.40, 4.40, 4.40, 4.40,
              4.40, 4.40, 4.40, 4.40, 4.39, 4.39, 4.39, 4.39, 4.39, 4.39, 4.39],
    "GWO": [7.80, 7.30, 7.02, 6.96, 6.90, 6.86, 6.83, 6.82, 6.82, 6.81,
            6.81, 6.80, 6.57, 6.52, 6.51, 6.50, 6.50, 6.49, 6.49, 6.48,
            6.48, 6.48, 6.48, 6.46, 6.46, 6.46, 6.46, 6.46, 6.46, 6.46,
            6.46, 6.46, 6.46, 6.46, 6.46, 6.46, 6.46, 6.46, 6.46, 6.46,
            6.46, 6.46, 6.46, 6.46, 6.46, 6.46, 6.46, 6.46, 6.46, 6.46, 6.46],
    "VOA": [9.26, 8.35, 8.24, 8.21, 8.21, 8.21, 8.21, 8.21, 8.21, 8.21,
            8.21, 8.21, 8.21, 8.21, 8.21, 8.21, 8.21, 8.21, 8.21, 8.21,
            8.21, 8.21, 8.21, 8.21, 8.21, 8.21, 8.21, 8.21, 8.21, 8.21,
            8.21, 8.21, 8.21, 8.21, 8.21, 8.21, 8.21, 8.21, 8.21, 8.21,
            8.21, 8.21, 8.21, 8.21, 8.21, 8.21, 8.21, 8.21, 8.21, 8.21, 8.21],
    "HOA": [8.50, 7.90, 7.60, 7.53, 7.44, 7.37, 7.35, 7.33, 7.32, 7.30,
            7.30, 7.29, 7.29, 7.28, 7.28, 7.27, 7.27, 7.24, 7.24, 7.24,
            7.23, 7.23, 7.23, 7.22, 7.22, 7.22, 6.87, 6.72, 6.24, 6.14,
            6.06, 5.94, 5.90, 5.87, 5.84, 5.80, 5.76, 5.73, 5.70, 5.67,
            5.67, 5.65, 5.64, 5.63, 5.61, 5.60, 5.59, 5.57, 5.56, 5.54, 5.53],
    "WaOA": [8.60, 8.07, 7.90, 7.81, 7.79, 7.76, 7.73, 7.68, 7.65, 7.63,
             7.61, 7.60, 7.59, 7.45, 7.38, 7.36, 7.36, 7.36, 7.34, 7.34,
             7.34, 7.34, 7.34, 7.34, 7.34, 7.34, 7.34, 7.34, 7.34, 7.34,
             7.23, 7.21, 7.21, 7.21, 7.21, 7.21, 7.20, 7.20, 7.20, 7.15,
             7.12, 7.10, 7.08, 7.07, 7.02, 6.97, 6.95, 6.91, 6.85, 6.77, 6.73],
    "ASEO": [8.70, 7.90, 7.79, 7.73, 7.64, 7.55, 7.55, 7.49, 7.45, 7.42,
             7.36, 7.33, 7.30, 7.29, 7.27, 7.26, 7.24, 7.22, 7.20, 7.17,
             7.15, 7.15, 7.15, 7.15, 7.15, 7.12, 7.10, 7.09, 7.08, 7.08,
             7.07, 7.06, 7.05, 7.00, 6.97, 6.96, 6.96, 6.95, 6.95, 6.90,
             6.90, 6.90, 6.90, 6.90, 6.90, 6.90, 6.90, 6.90, 6.90, 6.90, 6.90],
    "BSLO": [9.00, 8.73, 8.73, 8.73, 8.73, 8.73, 8.73, 8.73, 8.73, 8.73,
             8.73, 8.73, 8.73, 8.73, 8.73, 8.73, 8.73, 8.73, 8.73, 8.73,
             8.73, 8.73, 8.73, 8.73, 8.73, 8.73, 8.73, 8.73, 8.73, 8.73,
             8.73, 8.73, 8.73, 8.73, 8.73, 8.73, 8.73, 8.73, 8.73, 8.73,
             8.73, 8.73, 8.73, 8.73, 8.73, 8.73, 8.73, 8.73, 8.73, 8.73, 8.73],
    "EPO": [8.20, 7.89, 7.81, 7.77, 7.73, 7.67, 7.61, 7.55, 7.50, 7.45,
            7.40, 7.36, 7.32, 7.29, 7.27, 7.23, 7.17, 7.12, 7.06, 7.02,
            6.95, 6.91, 6.86, 6.82, 6.78, 6.74, 6.70, 6.66, 6.63, 6.61,
            6.59, 6.55, 6.50, 6.48, 6.46, 6.44, 6.40, 6.38, 6.35, 6.32,
            6.29, 6.26, 6.22, 6.19, 6.15, 6.12, 6.08, 6.03, 5.99, 5.94, 5.90],
    "SRA": [9.05, 8.93, 8.85, 8.76, 8.67, 8.58, 8.53, 8.48, 8.41, 8.34,
            8.31, 8.28, 8.25, 8.22, 8.19, 8.15, 8.13, 8.11, 8.09, 8.07,
            8.04, 8.01, 7.98, 7.96, 7.94, 7.92, 7.90, 7.89, 7.88, 7.86,
            7.85, 7.84, 7.84, 7.83, 7.83, 7.82, 7.81, 7.81, 7.80, 7.80,
            7.80, 7.79, 7.79, 7.79, 7.79, 7.78, 7.78, 7.78, 7.78, 7.78, 7.78],
    "CEO": [8.90, 7.80, 7.80, 7.80, 7.80, 7.80, 7.80, 7.80, 7.80, 7.80,
            7.80, 7.80, 7.80, 7.80, 7.80, 7.80, 7.80, 7.80, 7.80, 7.80,
            7.80, 7.80, 7.80, 7.80, 7.80, 7.80, 7.80, 7.80, 7.80, 7.80,
            7.80, 7.80, 7.80, 7.80, 7.80, 7.80, 7.80, 7.80, 7.80, 7.80,
            7.80, 7.80, 7.80, 7.80, 7.80, 7.80, 7.80, 7.80, 7.80, 7.80, 7.80],
    "CGBPO": [9.10, 7.60, 7.25, 7.08, 6.82, 6.69, 6.59, 6.52, 6.44, 6.35,
              6.29, 6.24, 6.20, 6.14, 6.07, 6.02, 5.97, 5.93, 5.89, 5.85,
              5.79, 5.75, 5.71, 5.67, 5.63, 5.59, 5.56, 5.53, 5.49, 5.47,
              5.45, 5.43, 5.39, 5.37, 5.34, 5.31, 5.22, 5.20, 5.18, 5.16,
              5.14, 5.12, 5.11, 5.09, 5.08, 5.06, 5.04, 5.03, 5.01, 5.00, 4.99],
    "EMEPO": [9.10, 7.60, 7.25, 7.21, 7.06, 7.04, 6.97, 6.96, 6.67, 6.61,
              6.58, 6.57, 6.56, 6.55, 6.54, 6.53, 6.52, 6.52, 6.50, 6.50,
              6.50, 6.50, 6.50, 6.49, 6.49, 6.49, 6.49, 6.49, 6.49, 6.49,
              6.49, 6.49, 6.49, 6.49, 6.49, 6.48, 6.48, 6.48, 6.48, 6.48,
              6.48, 6.48, 6.48, 6.48, 6.48, 6.48, 5.88, 5.34, 4.87, 4.79, 4.76],
}

# ---- F8: average fitness ----
F8_VAL = {
    "ECMPO": [5600, 2405, 2365, 2350, 2350, 2350, 2350, 2350, 2350, 2350,
              2350, 2350, 2350, 2350, 2350, 2350, 2350, 2350, 2350, 2350,
              2350, 2350, 2350, 2350, 2350, 2350, 2350, 2350, 2350, 2350,
              2350, 2350, 2350, 2350, 2350, 2350, 2350, 2350, 2350, 2350,
              2350, 2350, 2350, 2350, 2350, 2348, 2348, 2347, 2347, 2346, 2346],
    "GWO": [2800, 2455, 2455, 2455, 2455, 2455, 2455, 2455, 2455, 2455,
            2455, 2455, 2455, 2455, 2455, 2455, 2455, 2455, 2455, 2455,
            2455, 2455, 2455, 2455, 2455, 2455, 2455, 2455, 2455, 2455,
            2455, 2455, 2455, 2455, 2455, 2455, 2455, 2455, 2455, 2455,
            2455, 2455, 2455, 2455, 2455, 2455, 2455, 2455, 2455, 2455, 2455],
    "VOA": [5600, 3680, 3477, 3445, 3445, 3445, 3445, 3445, 3445, 3445,
            3445, 3445, 3445, 3445, 3445, 3445, 3445, 3445, 3445, 3445,
            3445, 3445, 3445, 3445, 3445, 3445, 3445, 3445, 3445, 3445,
            3445, 3445, 3445, 3445, 3445, 3445, 3445, 3445, 3445, 3445,
            3445, 3445, 3445, 3445, 3445, 3445, 3445, 3445, 3445, 3445, 3445],
    "HOA": [5400, 2681, 2660, 2605, 2600, 2578, 2578, 2578, 2578, 2578,
            2578, 2570, 2570, 2570, 2570, 2570, 2548, 2548, 2548, 2548,
            2548, 2548, 2548, 2548, 2548, 2548, 2510, 2496, 2484, 2476,
            2470, 2460, 2459, 2458, 2457, 2456, 2456, 2455, 2455, 2455,
            2455, 2455, 2455, 2455, 2455, 2455, 2455, 2455, 2455, 2455, 2455],
    "WaOA": [5300, 2624, 2605, 2600, 2590, 2588, 2585, 2583, 2580, 2578,
             2578, 2578, 2578, 2556, 2556, 2556, 2556, 2556, 2556, 2556,
             2556, 2556, 2556, 2556, 2515, 2515, 2490, 2486, 2483, 2480,
             2480, 2460, 2458, 2456, 2454, 2452, 2450, 2450, 2450, 2438,
             2435, 2432, 2428, 2424, 2410, 2396, 2386, 2383, 2376, 2368, 2368],
    "ASEO": [5600, 3120, 2970, 2910, 2834, 2768, 2730, 2713, 2681, 2656,
             2610, 2600, 2583, 2570, 2556, 2543, 2535, 2530, 2524, 2510,
             2504, 2500, 2496, 2490, 2484, 2480, 2474, 2470, 2465, 2460,
             2457, 2453, 2449, 2446, 2442, 2440, 2438, 2437, 2436, 2435,
             2434, 2427, 2425, 2423, 2421, 2420, 2419, 2418, 2418, 2418, 2418],
    "BSLO": [5000, 4335, 4335, 4335, 4335, 4335, 4335, 4335, 4335, 4335,
             4335, 4335, 4335, 4335, 4335, 4335, 4335, 4335, 4335, 4335,
             4335, 4335, 4335, 4335, 4335, 4335, 4335, 4335, 4335, 4335,
             4335, 4335, 4335, 4335, 4335, 4335, 4335, 4335, 4335, 4335,
             4335, 4335, 4335, 4335, 4335, 4335, 4335, 4335, 4335, 4335, 4335],
    "EPO": [4500, 2977, 2920, 2886, 2855, 2829, 2808, 2793, 2778, 2768,
            2758, 2748, 2741, 2738, 2730, 2725, 2718, 2716, 2714, 2712,
            2710, 2710, 2710, 2710, 2710, 2710, 2710, 2710, 2710, 2710,
            2708, 2708, 2708, 2708, 2708, 2708, 2708, 2708, 2708, 2708,
            2706, 2706, 2706, 2706, 2706, 2706, 2706, 2706, 2706, 2706, 2706],
    "SRA": [4820, 4300, 4060, 3900, 3775, 3645, 3550, 3452, 3365, 3330,
            3270, 3235, 3205, 3112, 3095, 3070, 3022, 2995, 2977, 2965,
            2947, 2930, 2913, 2902, 2893, 2886, 2877, 2865, 2858, 2850,
            2843, 2839, 2838, 2838, 2838, 2838, 2832, 2830, 2830, 2830,
            2812, 2793, 2793, 2793, 2793, 2793, 2793, 2793, 2793, 2793, 2793],
    "CEO": [5000, 2838, 2838, 2838, 2838, 2838, 2838, 2838, 2838, 2838,
            2838, 2838, 2838, 2838, 2838, 2838, 2838, 2838, 2838, 2838,
            2838, 2838, 2838, 2838, 2838, 2838, 2838, 2838, 2838, 2838,
            2838, 2838, 2838, 2838, 2838, 2838, 2838, 2838, 2838, 2838,
            2838, 2838, 2838, 2838, 2838, 2838, 2838, 2838, 2838, 2838, 2838],
    "CGBPO": [5000, 2600, 2490, 2432, 2405, 2396, 2368, 2352, 2352, 2352,
              2352, 2352, 2352, 2352, 2352, 2352, 2352, 2352, 2352, 2352,
              2352, 2352, 2352, 2352, 2352, 2352, 2352, 2352, 2352, 2352,
              2352, 2352, 2352, 2352, 2352, 2352, 2352, 2352, 2352, 2352,
              2352, 2352, 2352, 2352, 2352, 2352, 2342, 2342, 2342, 2342, 2342],
    "EMEPO": [5350, 2578, 2490, 2442, 2420, 2396, 2376, 2371, 2368, 2368,
              2366, 2366, 2366, 2366, 2366, 2366, 2366, 2366, 2366, 2366,
              2366, 2366, 2366, 2366, 2366, 2366, 2348, 2348, 2348, 2348,
              2348, 2348, 2348, 2348, 2348, 2348, 2348, 2348, 2348, 2348,
              2348, 2348, 2348, 2348, 2348, 2348, 2311, 2311, 2311, 2311, 2311],
}

# ---- F9: log10 of average fitness ----
F9_LOG = {
    "ECMPO": [4.600, 4.148, 4.071, 3.967, 3.863, 3.787, 3.743, 3.699, 3.655, 3.623,
              3.590, 3.562, 3.537, 3.519, 3.504, 3.493, 3.486, 3.475, 3.467, 3.462,
              3.458, 3.455, 3.452, 3.447, 3.445, 3.444, 3.442, 3.441, 3.441, 3.440,
              3.440, 3.439, 3.439, 3.438, 3.438, 3.438, 3.437, 3.437, 3.437, 3.437,
              3.437, 3.437, 3.437, 3.437, 3.437, 3.437, 3.437, 3.437, 3.437, 3.437, 3.437],
    "GWO": [4.300, 4.038, 4.003, 3.984, 3.978, 3.978, 3.978, 3.978, 3.978, 3.978,
            3.978, 3.978, 3.978, 3.978, 3.978, 3.978, 3.978, 3.978, 3.978, 3.978,
            3.978, 3.978, 3.978, 3.978, 3.978, 3.978, 3.978, 3.978, 3.978, 3.978,
            3.978, 3.978, 3.978, 3.978, 3.978, 3.978, 3.978, 3.978, 3.978, 3.978,
            3.978, 3.978, 3.978, 3.978, 3.978, 3.978, 3.978, 3.978, 3.978, 3.978, 3.978],
    "VOA": [4.550, 4.459, 4.452, 4.452, 4.452, 4.452, 4.452, 4.452, 4.452, 4.452,
            4.452, 4.452, 4.452, 4.452, 4.452, 4.452, 4.452, 4.452, 4.452, 4.452,
            4.452, 4.452, 4.452, 4.452, 4.452, 4.452, 4.452, 4.452, 4.452, 4.452,
            4.452, 4.452, 4.452, 4.452, 4.452, 4.452, 4.452, 4.452, 4.452, 4.452,
            4.452, 4.452, 4.452, 4.452, 4.452, 4.452, 4.452, 4.452, 4.452, 4.452, 4.452],
    "HOA": [4.450, 4.301, 4.257, 4.235, 4.219, 4.200, 4.194, 4.189, 4.186, 4.181,
            4.178, 4.173, 4.171, 4.170, 4.167, 4.167, 4.167, 4.167, 4.167, 4.167,
            4.167, 4.167, 4.167, 4.167, 4.167, 4.167, 4.159, 4.148, 4.135, 4.117,
            4.102, 4.095, 4.091, 4.044, 4.038, 4.011, 3.984, 3.962, 3.956, 3.942,
            3.907, 3.887, 3.863, 3.852, 3.844, 3.828, 3.817, 3.803, 3.787, 3.770, 3.740],
    "WaOA": [4.350, 4.159, 4.126, 4.117, 4.113, 4.113, 4.113, 4.113, 4.113, 4.113,
             4.113, 4.113, 4.113, 4.113, 4.113, 4.113, 4.113, 4.113, 4.113, 4.113,
             4.104, 4.104, 4.104, 4.104, 4.104, 4.104, 4.104, 4.104, 4.104, 4.104,
             4.104, 4.104, 4.104, 4.090, 4.090, 4.090, 4.090, 4.090, 4.090, 4.090,
             4.071, 4.060, 4.049, 4.016, 3.978, 3.962, 3.918, 3.858, 3.825, 3.798, 3.781],
    "ASEO": [4.350, 4.312, 4.279, 4.252, 4.241, 4.232, 4.219, 4.216, 4.211, 4.205,
             4.200, 4.195, 4.191, 4.181, 4.170, 4.161, 4.148, 4.131, 4.126, 4.115,
             4.107, 4.101, 4.093, 4.088, 4.082, 4.073, 4.066, 4.058, 4.049, 4.046,
             4.040, 4.036, 4.030, 4.025, 4.019, 4.011, 4.008, 4.007, 4.005, 4.003,
             4.000, 3.995, 3.986, 3.985, 3.984, 3.983, 3.982, 3.981, 3.981, 3.981, 3.981],
    "BSLO": [4.620, 4.593, 4.593, 4.593, 4.593, 4.593, 4.593, 4.593, 4.593, 4.593,
             4.593, 4.593, 4.593, 4.593, 4.593, 4.593, 4.593, 4.593, 4.593, 4.593,
             4.593, 4.593, 4.593, 4.593, 4.593, 4.593, 4.593, 4.593, 4.593, 4.593,
             4.593, 4.593, 4.593, 4.593, 4.593, 4.593, 4.593, 4.593, 4.593, 4.593,
             4.593, 4.593, 4.593, 4.593, 4.593, 4.593, 4.593, 4.593, 4.593, 4.593, 4.593],
    "EPO": [4.400, 4.257, 4.246, 4.235, 4.230, 4.219, 4.208, 4.200, 4.191, 4.181,
            4.173, 4.164, 4.156, 4.148, 4.139, 4.128, 4.120, 4.109, 4.102, 4.093,
            4.084, 4.077, 4.071, 4.062, 4.055, 4.047, 4.038, 4.030, 4.022, 4.011,
            3.989, 3.978, 3.967, 3.956, 3.945, 3.934, 3.923, 3.912, 3.902, 3.891,
            3.880, 3.869, 3.858, 3.845, 3.834, 3.825, 3.814, 3.801, 3.787, 3.767, 3.748],
    "SRA": [4.620, 4.569, 4.542, 4.520, 4.503, 4.487, 4.478, 4.470, 4.465, 4.456,
            4.452, 4.449, 4.446, 4.443, 4.438, 4.432, 4.427, 4.421, 4.416, 4.412,
            4.410, 4.405, 4.402, 4.398, 4.396, 4.393, 4.391, 4.388, 4.386, 4.384,
            4.383, 4.382, 4.381, 4.380, 4.379, 4.377, 4.376, 4.375, 4.375, 4.374,
            4.374, 4.371, 4.370, 4.369, 4.368, 4.367, 4.367, 4.366, 4.366, 4.365, 4.365],
    "CEO": [4.550, 4.202, 4.202, 4.202, 4.202, 4.202, 4.202, 4.202, 4.202, 4.202,
            4.202, 4.202, 4.202, 4.202, 4.202, 4.202, 4.202, 4.202, 4.202, 4.202,
            4.202, 4.202, 4.202, 4.202, 4.202, 4.202, 4.202, 4.202, 4.202, 4.202,
            4.202, 4.202, 4.202, 4.202, 4.202, 4.202, 4.202, 4.202, 4.202, 4.202,
            4.202, 4.202, 4.202, 4.202, 4.202, 4.202, 4.202, 4.202, 4.202, 4.202, 4.202],
    "CGBPO": [4.660, 4.040, 3.840, 3.710, 3.640, 3.610, 3.590, 3.580, 3.570, 3.570,
              3.560, 3.550, 3.535, 3.535, 3.535, 3.535, 3.535, 3.535, 3.535, 3.535,
              3.535, 3.535, 3.535, 3.535, 3.535, 3.535, 3.535, 3.535, 3.535, 3.535,
              3.535, 3.535, 3.535, 3.535, 3.535, 3.535, 3.535, 3.535, 3.535, 3.535,
              3.535, 3.535, 3.535, 3.535, 3.535, 3.535, 3.535, 3.535, 3.535, 3.535, 3.535],
    "EMEPO": [4.620, 4.049, 3.819, 3.699, 3.639, 3.584, 3.557, 3.537, 3.524, 3.513,
              3.504, 3.497, 3.489, 3.482, 3.477, 3.473, 3.469, 3.466, 3.462, 3.458,
              3.456, 3.454, 3.452, 3.450, 3.447, 3.445, 3.443, 3.442, 3.441, 3.440,
              3.439, 3.437, 3.436, 3.435, 3.434, 3.433, 3.432, 3.431, 3.431, 3.426,
              3.425, 3.424, 3.423, 3.422, 3.421, 3.420, 3.419, 3.418, 3.418, 3.417, 3.417],
}

# ---- F10: log10 of average fitness ----
F10_LOG = {
    "ECMPO": [4.412, 3.616, 3.543, 3.524, 3.518, 3.512, 3.508, 3.507, 3.506, 3.506,
              3.506, 3.506, 3.506, 3.506, 3.506, 3.506, 3.506, 3.506, 3.506, 3.506,
              3.506, 3.506, 3.506, 3.506, 3.506, 3.506, 3.506, 3.506, 3.506, 3.506,
              3.506, 3.506, 3.506, 3.506, 3.506, 3.506, 3.506, 3.506, 3.506, 3.506,
              3.506, 3.506, 3.506, 3.506, 3.506, 3.506, 3.506, 3.506, 3.506, 3.506, 3.506],
    "GWO": [3.950, 3.728, 3.711, 3.703, 3.695, 3.689, 3.686, 3.685, 3.684, 3.684,
            3.683, 3.683, 3.683, 3.683, 3.683, 3.683, 3.682, 3.682, 3.682, 3.682,
            3.682, 3.677, 3.677, 3.677, 3.677, 3.677, 3.677, 3.677, 3.677, 3.677,
            3.677, 3.677, 3.677, 3.677, 3.677, 3.677, 3.677, 3.677, 3.677, 3.677,
            3.677, 3.677, 3.677, 3.677, 3.677, 3.677, 3.677, 3.677, 3.677, 3.677, 3.677],
    "VOA": [4.448, 4.154, 4.139, 4.130, 4.130, 4.130, 4.130, 4.130, 4.130, 4.130,
            4.130, 4.130, 4.130, 4.130, 4.130, 4.130, 4.130, 4.130, 4.130, 4.130,
            4.130, 4.130, 4.130, 4.130, 4.130, 4.130, 4.130, 4.130, 4.130, 4.130,
            4.130, 4.130, 4.130, 4.130, 4.130, 4.130, 4.130, 4.130, 4.130, 4.130,
            4.130, 4.130, 4.130, 4.130, 4.130, 4.130, 4.130, 4.130, 4.130, 4.130, 4.130],
    "HOA": [4.200, 3.973, 3.915, 3.877, 3.858, 3.850, 3.846, 3.844, 3.841, 3.837,
            3.833, 3.829, 3.827, 3.825, 3.823, 3.822, 3.821, 3.820, 3.819, 3.818,
            3.818, 3.817, 3.817, 3.817, 3.817, 3.817, 3.778, 3.749, 3.715, 3.678,
            3.666, 3.641, 3.617, 3.603, 3.599, 3.593, 3.573, 3.566, 3.562, 3.555,
            3.551, 3.548, 3.545, 3.544, 3.543, 3.541, 3.539, 3.539, 3.539, 3.539, 3.539],
    "WaOA": [4.050, 3.798, 3.786, 3.778, 3.773, 3.769, 3.768, 3.768, 3.767, 3.767,
             3.761, 3.760, 3.760, 3.759, 3.758, 3.758, 3.757, 3.757, 3.757, 3.757,
             3.754, 3.754, 3.754, 3.754, 3.754, 3.754, 3.750, 3.749, 3.748, 3.746,
             3.746, 3.744, 3.742, 3.739, 3.732, 3.728, 3.724, 3.714, 3.703, 3.690,
             3.674, 3.659, 3.645, 3.630, 3.616, 3.601, 3.591, 3.583, 3.574, 3.568, 3.564],
    "ASEO": [4.050, 3.964, 3.933, 3.915, 3.898, 3.885, 3.877, 3.866, 3.856, 3.848,
             3.836, 3.827, 3.822, 3.815, 3.807, 3.798, 3.790, 3.783, 3.779, 3.769,
             3.761, 3.757, 3.754, 3.753, 3.750, 3.747, 3.744, 3.742, 3.739, 3.736,
             3.734, 3.732, 3.730, 3.728, 3.725, 3.724, 3.722, 3.720, 3.717, 3.715,
             3.713, 3.712, 3.711, 3.711, 3.710, 3.710, 3.709, 3.709, 3.709, 3.709, 3.709],
    "BSLO": [4.400, 4.288, 4.288, 4.288, 4.288, 4.288, 4.288, 4.288, 4.288, 4.288,
             4.288, 4.288, 4.288, 4.288, 4.288, 4.288, 4.288, 4.288, 4.288, 4.288,
             4.288, 4.288, 4.288, 4.288, 4.288, 4.288, 4.288, 4.288, 4.288, 4.288,
             4.288, 4.288, 4.288, 4.288, 4.288, 4.288, 4.288, 4.288, 4.288, 4.288,
             4.288, 4.288, 4.288, 4.288, 4.288, 4.288, 4.288, 4.288, 4.288, 4.288, 4.288],
    "EPO": [3.950, 3.912, 3.902, 3.894, 3.885, 3.877, 3.869, 3.858, 3.848, 3.840,
            3.833, 3.827, 3.822, 3.815, 3.807, 3.800, 3.794, 3.788, 3.782, 3.775,
            3.769, 3.763, 3.759, 3.753, 3.749, 3.743, 3.739, 3.734, 3.730, 3.726,
            3.722, 3.718, 3.714, 3.710, 3.705, 3.701, 3.697, 3.692, 3.688, 3.684,
            3.680, 3.674, 3.667, 3.661, 3.657, 3.653, 3.649, 3.646, 3.645, 3.642, 3.641],
    "SRA": [4.263, 4.230, 4.209, 4.193, 4.172, 4.151, 4.132, 4.118, 4.110, 4.097,
            4.093, 4.087, 4.082, 4.076, 4.062, 4.043, 4.037, 4.033, 4.029, 4.024,
            4.020, 4.016, 4.012, 4.009, 4.007, 4.004, 4.002, 3.998, 3.995, 3.993,
            3.989, 3.987, 3.985, 3.983, 3.979, 3.976, 3.974, 3.972, 3.970, 3.968,
            3.964, 3.960, 3.960, 3.959, 3.959, 3.959, 3.958, 3.958, 3.958, 3.958, 3.958],
    "CEO": [4.300, 3.898, 3.898, 3.898, 3.898, 3.898, 3.898, 3.898, 3.898, 3.898,
            3.898, 3.898, 3.898, 3.898, 3.898, 3.898, 3.898, 3.898, 3.898, 3.898,
            3.898, 3.898, 3.898, 3.898, 3.898, 3.898, 3.898, 3.898, 3.898, 3.898,
            3.898, 3.898, 3.898, 3.898, 3.898, 3.898, 3.898, 3.898, 3.898, 3.898,
            3.898, 3.898, 3.898, 3.898, 3.898, 3.898, 3.898, 3.898, 3.898, 3.898, 3.898],
    "CGBPO": [4.350, 3.840, 3.724, 3.689, 3.667, 3.649, 3.634, 3.620, 3.612, 3.603,
              3.599, 3.593, 3.588, 3.584, 3.580, 3.577, 3.573, 3.570, 3.568, 3.564,
              3.562, 3.559, 3.557, 3.556, 3.554, 3.553, 3.552, 3.551, 3.550, 3.549,
              3.548, 3.547, 3.546, 3.546, 3.545, 3.545, 3.544, 3.544, 3.543, 3.543,
              3.541, 3.540, 3.539, 3.538, 3.538, 3.537, 3.536, 3.536, 3.535, 3.535, 3.535],
    "EMEPO": [4.330, 3.790, 3.707, 3.667, 3.645, 3.630, 3.622, 3.616, 3.612, 3.609,
              3.607, 3.605, 3.603, 3.601, 3.600, 3.599, 3.578, 3.573, 3.570, 3.568,
              3.566, 3.566, 3.565, 3.565, 3.565, 3.564, 3.564, 3.564, 3.564, 3.564,
              3.564, 3.562, 3.562, 3.562, 3.561, 3.561, 3.561, 3.560, 3.560, 3.560,
              3.560, 3.559, 3.559, 3.559, 3.559, 3.559, 3.529, 3.520, 3.520, 3.520, 3.520],
}

# (title, data, values stored as log10)
PANELS = [
    ("CEC2020 F1", F1_LOG, True), ("CEC2020 F2", F2_VAL, False),
    ("CEC2020 F3", F3_LOG, True), ("CEC2020 F4", F4_LOG, True),
    ("CEC2020 F5", F5_LOG, True), ("CEC2020 F6", F6_LOG, True),
    ("CEC2020 F7", F7_LOG, True), ("CEC2020 F8", F8_VAL, False),
    ("CEC2020 F9", F9_LOG, True), ("CEC2020 F10", F10_LOG, True),
]

# axes boxes in pixels (left, top, right, bottom) on the 1470x2040 canvas
BOXES = [
    (73, 121, 487, 536), (583, 123, 971, 534), (1038, 121, 1458, 536),
    (66, 605, 487, 1022), (551, 605, 972, 1022), (1038, 605, 1458, 1022),
    (66, 1092, 487, 1508), (580, 1092, 974, 1509), (1038, 1092, 1458, 1508),
    (66, 1578, 487, 1994),
]

W, H = 1470, 2040
fig = plt.figure(figsize=(W / 100, H / 100), dpi=100)

handles = None
for (title, data, stored_log), (x0, y0, x1, y1) in zip(PANELS, BOXES):
    ax = fig.add_axes([x0 / W, 1 - y1 / H, (x1 - x0) / W, (y1 - y0) / H])
    lines = []
    for name in ALGOS:
        vals = np.asarray(data[name], dtype=float)
        if stored_log:
            vals = 10 ** vals
        n = min(len(vals), len(ITERS))
        main = name == "ECMPO"
        ln, = ax.plot(ITERS[:n], vals[:n], color=COLORS[name],
                      lw=3.2 if main else 1.3, marker="o", ms=3.9,
                      mfc=COLORS[name], mec="#333333", mew=0.65,
                      markevery=list(range(min(n, 50))), label=name,
                      zorder=2)
        lines.append(ln)
    if handles is None:
        handles = lines
    ax.set_yscale("log")
    ax.set_title(title, fontsize=15, pad=5)
    ax.set_xlabel("Iterations", fontsize=12, labelpad=0)
    ax.set_ylabel("Average fitness", fontsize=12, labelpad=3)
    ax.tick_params(axis="both", which="both", labelsize=11.5, pad=2.5)
    ax.set_xticks([0, 200, 400, 600, 800, 1000])
    ax.grid(True, which="major", ls="--", lw=0.6, color="#cccccc")
    for sp in ax.spines.values():
        sp.set_color("#888888")
        sp.set_linewidth(1.4)

leg = fig.legend(handles, ALGOS, loc="upper center", bbox_to_anchor=(0.499, 0.996),
                 ncol=6, fontsize=15.5, frameon=True, fancybox=False,
                 edgecolor="#888888", markerscale=1.8, handlelength=2.4,
                 handletextpad=0.5, columnspacing=1.2, borderpad=0.5,
                 labelspacing=0.5)
leg.get_frame().set_linewidth(1.8)

fig.savefig("out.png", dpi=100)
